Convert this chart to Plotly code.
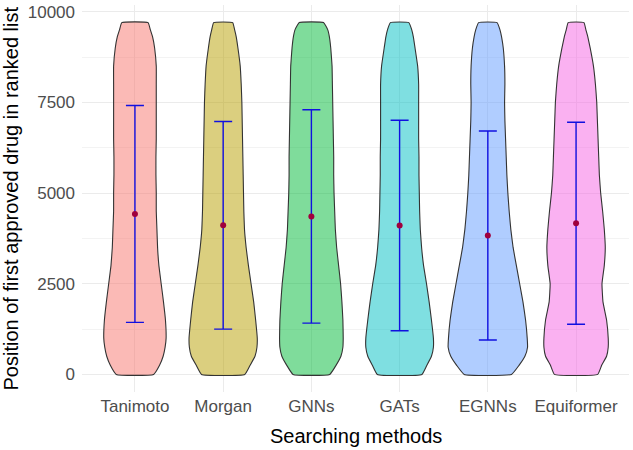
import plotly.graph_objects as go
import numpy as np

methods = ["Tanimoto", "Morgan", "GNNs", "GATs", "EGNNs", "Equiformer"]
colors = ["#F8766D", "#B79F00", "#00BA38", "#00BFC4", "#619CFF", "#F564E3"]

y_ticks = [0, 2500, 5000, 7500, 10000]
y_ticklabels = ["0", "2500", "5000", "7500", "10000"]

# y levels of the estimated density profile
levels = [0, 250, 500, 750, 1000, 1500, 2000, 2500, 3000, 3500, 4000, 4500,
          5000, 5500, 6000, 6500, 7000, 7500, 8000, 8500, 9000, 9300, 9500, 9700]

# relative density (violin width)
dens_tanimoto = [57, 75, 86, 92, 95, 93, 87, 80, 73, 69, 67, 65, 65, 64, 64, 65, 65, 65, 65, 65, 60, 54, 47, 40]
dens_morgan = [66, 82, 97, 103, 104, 99, 93, 85, 77, 70, 65, 63, 62, 61, 60, 59, 58, 57, 55, 52, 45, 40, 35, 29]
dens_gnns = [56, 75, 90, 96, 97, 96, 93, 89, 83, 77, 73, 71, 69, 68, 68, 67, 66, 65, 64, 63, 59, 55, 50, 37]
dens_gats = [68, 83, 97, 103, 103, 97, 90, 82, 73, 67, 63, 61, 60, 59, 59, 58, 58, 58, 58, 55, 47, 42, 37, 28]
dens_egnns = [72, 95, 113, 121, 120, 115, 107, 97, 87, 77, 70, 65, 61, 58, 56, 54, 52, 51, 52, 51, 47, 42, 37, 28]
dens_equiformer = [66, 78, 93, 98, 98, 93, 82, 79, 86, 89, 86, 81, 75, 71, 69, 67, 65, 63, 59, 53, 43, 36, 30, 24]
densities = [dens_tanimoto, dens_morgan, dens_gnns, dens_gats, dens_egnns, dens_equiformer]

means = [4425, 4110, 4355, 4105, 3830, 4167]
sds = [2990, 2862, 2940, 2902, 2880, 2784]

FONT = "Liberation Sans, Arial, sans-serif"

def rgba(hexc, a):
    h = hexc.lstrip("#")
    r, g, b = int(h[0:2], 16), int(h[2:4], 16), int(h[4:6], 16)
    return f"rgba({r},{g},{b},{a})"

fig = go.Figure()
max_d = max(max(d) for d in densities)
xpos = list(range(1, len(methods) + 1))
for i, (m, c, d) in enumerate(zip(methods, colors, densities)):
    half = 0.45 * np.array(d, dtype=float) / max_d
    lv = np.array(levels, dtype=float)
    xs = np.concatenate([xpos[i] + half, (xpos[i] - half)[::-1], [xpos[i] + half[0]]])
    ys = np.concatenate([lv, lv[::-1], [lv[0]]])
    fig.add_trace(go.Scatter(x=xs, y=ys, mode="lines", fill="toself",
                             fillcolor=rgba(c, 0.5),
                             line=dict(color="#333333", width=1.1, shape="spline", smoothing=0.35),
                             hoverinfo="skip", showlegend=False))

fig.add_trace(go.Scatter(
    x=xpos, y=means, mode="markers",
    marker=dict(color="#A0003C", size=6),
    error_y=dict(type="data", array=sds, visible=True, color="#1010E0", thickness=1.4, width=9),
    showlegend=False))

fig.update_layout(
    width=633, height=450,
    margin=dict(l=82, r=4, t=3, b=58),
    paper_bgcolor="white", plot_bgcolor="white",
    font=dict(family=FONT, size=16, color="#4D4D4D"),
    xaxis=dict(range=[0.4, 6.6], tickvals=xpos, ticktext=methods, showgrid=True,
               gridcolor="#EBEBEB", gridwidth=1, zeroline=False, showline=False,
               ticks="", tickfont=dict(size=17, color="#4D4D4D"), ticklabelstandoff=2),
    yaxis=dict(range=[-485, 10185], tickvals=y_ticks, ticktext=y_ticklabels, showgrid=True,
               gridcolor="#EBEBEB", gridwidth=1, zeroline=False, showline=False,
               ticks="", tickfont=dict(size=17, color="#4D4D4D"), ticklabelstandoff=6,
               minor=dict(tickvals=[1250, 3750, 6250, 8750], showgrid=True,
                          gridcolor="#F3F3F3", gridwidth=0.7)),
    annotations=[
        dict(text="Searching methods", xref="paper", yref="paper", x=0.5, y=-0.113,
             xanchor="center", yanchor="middle", showarrow=False,
             font=dict(family=FONT, size=20, color="black")),
        dict(text="Position of first approved drug in ranked list", xref="paper", yref="paper",
             x=-0.1298, y=0.5, xanchor="center", yanchor="middle", textangle=-90,
             showarrow=False, font=dict(family=FONT, size=20, color="black")),
    ],
)

fig.write_html("out.html", config={"displayModeBar": False},
               post_script="document.body.style.margin='0';")
